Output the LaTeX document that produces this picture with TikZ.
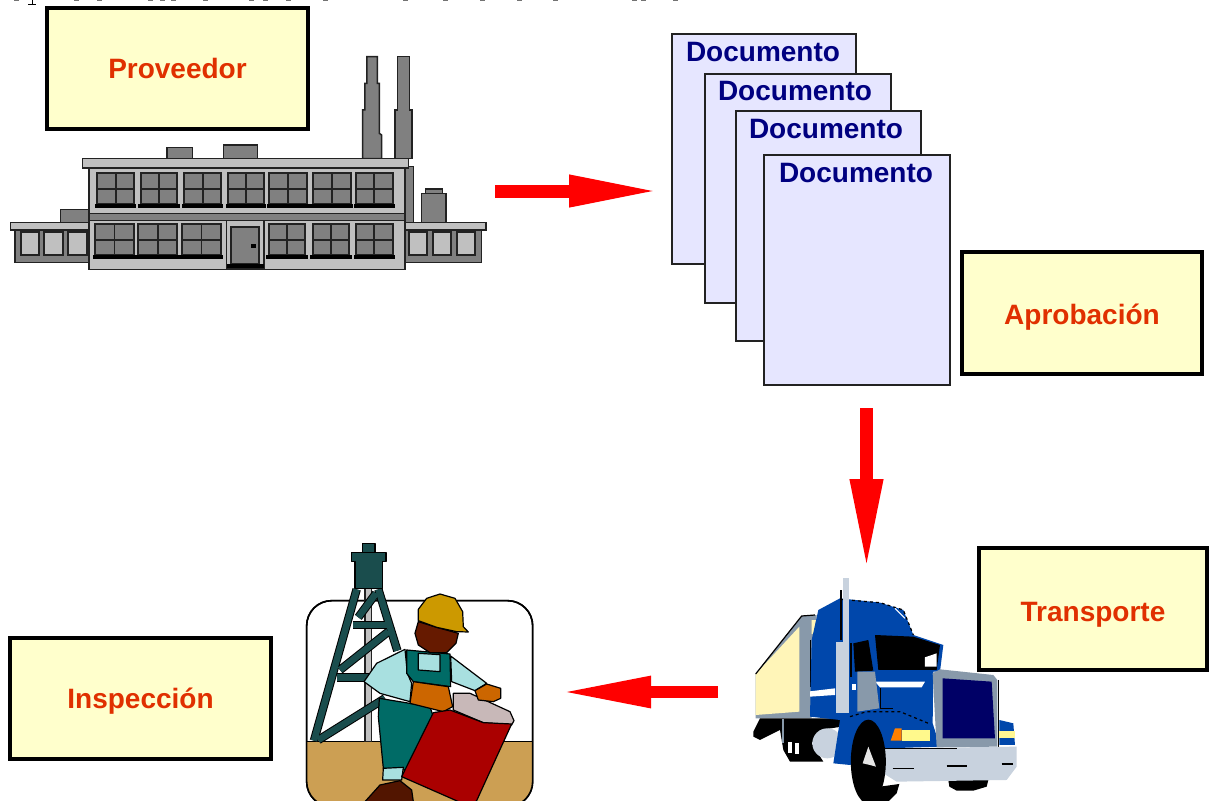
\documentclass[tikz,border=0pt]{standalone}
\usepackage{fontspec}
\setmainfont{Liberation Sans}
\usetikzlibrary{arrows.meta}
\definecolor{boxfill}{HTML}{FFFFCC}
\definecolor{labelred}{HTML}{E03000}
\definecolor{docfill}{HTML}{E6E6FF}
\definecolor{docblue}{HTML}{000080}
\definecolor{gl}{HTML}{C0C0C0}
\definecolor{gd}{HTML}{808080}
\definecolor{ol}{HTML}{222222}
\definecolor{tealD}{HTML}{1A4D4D}
\definecolor{tealM}{HTML}{006B66}
\definecolor{shirt}{HTML}{A8E0E0}
\definecolor{orangeW}{HTML}{CC6600}
\definecolor{hat}{HTML}{CC9900}
\definecolor{skin}{HTML}{661A00}
\definecolor{paperP}{HTML}{C8B8B8}
\definecolor{barrel}{HTML}{AA0000}
\definecolor{ground}{HTML}{CC9F53}
\definecolor{cream}{HTML}{FFF5B8}
\definecolor{steel}{HTML}{8899AA}
\definecolor{cabblue}{HTML}{0047AB}
\definecolor{pale}{HTML}{C8D2DE}
\definecolor{navyG}{HTML}{000066}
\tikzset{
  labelbox/.style={draw=black,line width=3.6pt,fill=boxfill,inner sep=0pt,text=labelred,font=\fontsize{28}{28}\selectfont\bfseries},
  basedrop/.style={text height=#1,text depth=0pt},
  docbox/.style={draw=ol,line width=2pt,fill=docfill,inner sep=0pt},
  doclabel/.style={inner sep=0pt,text=docblue,font=\fontsize{28}{28}\selectfont\bfseries},
  flowarrow/.style={draw=red,line width=#1},
  win/.style={draw=ol,line width=1.8pt,fill=gd},
  part/.style={draw=ol,line width=1.5pt},
  wk/.style={draw=black,line width=1.2pt,line join=round},
}
\newcommand{\windowpane}[4]{% x1 x2 y1 y2
  \draw[win] (#1,#3) rectangle (#2,#4);
  \draw[win] ({(#1+#2)/2},#3) -- ({(#1+#2)/2},#4);
  \draw[win] (#1,{(#3+#4)/2}) -- (#2,{(#3+#4)/2});
  \fill[black] ({#1-7},#4) rectangle ({#2+7},{#4+10});
}
\begin{document}
\begin{tikzpicture}[x=1pt,y=-1pt]
\useasboundingbox (0,0) rectangle (1209,800);
\fill[white] (0,0) rectangle (1209,800);
\begin{scope}
\clip (0,0) rectangle (1209,800);

% clipped remains of a line of text at the top edge
\foreach \mx in {14,74,97,148,160,171,203,249,263,286,323,403,443,480,517,553,632,641,673}
  \fill[black!55] (\mx,0) rectangle ({\mx+5},1.4);
\draw[black,line width=1pt] (32,0) -- (32,4);
\draw[black,line width=1pt] (28,4.2) -- (36,4.2);

% ---------- factory ----------
\begin{scope}[x=0.3333pt,y=-0.3333pt]
  \filldraw[part,fill=gd] (1088,476)--(1088,330)--(1095,330)--(1095,250)--(1101,250)--(1101,170)--(1132,170)--(1132,250)--(1138,250)--(1138,400)--(1145,405)--(1145,476)--cycle;
  \filldraw[part,fill=gd] (1185,476)--(1185,330)--(1192,330)--(1192,170)--(1229,170)--(1229,330)--(1236,330)--(1236,476)--cycle;
  \filldraw[part,fill=gd] (501,442) rectangle (577,476);
  \filldraw[part,fill=gd] (671,435) rectangle (773,476);
  \filldraw[part,fill=gd] (182,628) rectangle (265,668);
  \filldraw[part,fill=gd] (1265,580) rectangle (1338,668);
  \filldraw[part,fill=gd] (1277,567) rectangle (1327,580);
  \filldraw[part,fill=gd] (1213,500) rectangle (1241,668);
  % wings
  \filldraw[part,fill=gd] (45,688) rectangle (267,788);
  \filldraw[part,fill=gd] (1215,688) rectangle (1444,788);
  \filldraw[part,fill=gl] (32,667) rectangle (267,690);
  \filldraw[part,fill=gl] (1215,667) rectangle (1458,690);
  \foreach \a/\b in {62/118,132/190,203/260,1226/1280,1298/1352,1370/1424}
    \filldraw[win,fill=gl] (\a,697) rectangle (\b,765);
  % main block
  \filldraw[part,fill=gl] (267,505) rectangle (1215,808);
  \filldraw[part,fill=gl] (247,476) rectangle (1226,504);
  \filldraw[part,fill=gd] (268,640) rectangle (1213,662);
  \foreach \a/\b in {292/402,422/532,553/663,684/792,808/922,938/1052,1068/1178}
    \windowpane{\a}{\b}{520}{613};
  \foreach \a/\b in {285/402,415/532,546/663,806/916,938/1048,1068/1178}
    \windowpane{\a}{\b}{672}{766};
  % door
  \filldraw[part,fill=gl] (680,662) rectangle (792,805);
  \filldraw[win] (692,682) rectangle (778,792);
  \fill[black] (680,792) rectangle (792,805);
  \fill[black] (754,731) rectangle (767,744);
\end{scope}

% ---------- documents ----------
\node[docbox,minimum width=184pt,minimum height=230pt] (doc1) at (764,149) {};
\node[doclabel] (doc1t) at (763,52) {Documento};
\node[docbox,minimum width=186pt,minimum height=229pt] (doc2) at (798,188.5) {};
\node[doclabel] (doc2t) at (795,91) {Documento};
\node[docbox,minimum width=185pt,minimum height=230pt] (doc3) at (828.5,226) {};
\node[doclabel] (doc3t) at (826,129) {Documento};
\node[docbox,minimum width=186pt,minimum height=230pt] (doc4) at (857,270) {};
\node[doclabel] (doc4t) at (856,173) {Documento};

% ---------- label boxes ----------
\node[labelbox,basedrop=20pt,minimum width=261pt,minimum height=121pt] (prov) at (177.5,68.5) {Proveedor};
\node[labelbox,basedrop=22pt,minimum width=240pt,minimum height=122pt] (apro) at (1082,313) {Aprobación};
\node[labelbox,basedrop=24pt,minimum width=228pt,minimum height=122pt] (tran) at (1093,609) {Transporte};
\node[labelbox,basedrop=20pt,minimum width=261pt,minimum height=121pt] (insp) at (140.5,698.5) {Inspección};

% ---------- arrows ----------
\coordinate (a1s) at (495,191);
\coordinate (a1e) at (661,191);
\coordinate (a2s) at (866.5,408);
\coordinate (a2e) at (866.5,571);
\coordinate (a3s) at (718,692);
\coordinate (a3e) at (560,692);
\draw[flowarrow=13pt,-{Triangle[length=92pt,width=29pt]}] (a1s) -- (a1e);
\draw[flowarrow=13pt,-{Triangle[length=92pt,width=30pt]}] (a2s) -- (a2e);
\draw[flowarrow=12pt,-{Triangle[length=91pt,width=29pt]}] (a3s) -- (a3e);

% ---------- inspector ----------
\begin{scope}[shift={(290,530)},x=0.3333pt,y=-0.3333pt]
  \filldraw[draw=black,line width=1.6pt,fill=white,rounded corners=25pt] (50,212) rectangle (728,830);
  \begin{scope}
    \clip[rounded corners=25pt] (50,212) rectangle (728,830);
    \fill[ground] (50,635) rectangle (728,830);
    \draw[black,line width=1.2pt] (50,635) -- (728,635);
  \end{scope}
  \draw[black,line width=1.6pt,rounded corners=25pt] (50,212) rectangle (728,830);
  % tower
  \filldraw[part,fill=gl] (225,175) rectangle (245,635);
  \foreach \p/\q in {{(200,178)}/{(72,632)},{(265,178)}/{(322,362)},{(258,190)}/{(205,262)},{(190,285)}/{(290,285)},{(295,305)}/{(150,420)},{(140,442)}/{(240,442)},{(285,505)}/{(85,630)}}{
    \draw[black,line width=8.5pt] \p -- \q;
  }
  \foreach \p/\q in {{(200,178)}/{(72,632)},{(265,178)}/{(322,362)},{(258,190)}/{(205,262)},{(190,285)}/{(290,285)},{(295,305)}/{(150,420)},{(140,442)}/{(240,442)},{(285,505)}/{(85,630)}}{
    \draw[tealD,line width=6.5pt] \p -- \q;
  }
  \filldraw[wk,fill=tealD] (218,68) rectangle (255,40);
  \filldraw[wk,fill=tealD] (185,68)--(288,68)--(288,95)--(278,95)--(278,175)--(195,175)--(195,95)--(185,95)--cycle;
  % worker
  \filldraw[wk,fill=tealM] (268,505)--(420,530)--(430,560)--(390,640)--(350,720)--(280,715)--(265,560)--cycle;
  \filldraw[wk,fill=shirt] (280,715)--(340,712)--(335,750)--(278,750)--cycle;
  \filldraw[wk,fill=skin!80!black] (225,815)--(270,765)--(330,752)--(365,780)--(370,815)--cycle;
  \filldraw[wk,fill=shirt] (482,378)--(590,460)--(555,482)--(485,455)--cycle;
  \filldraw[wk,fill=shirt] (345,358)--(260,400)--(222,455)--(270,490)--(360,515)--(365,460)--(352,430)--cycle;
  \filldraw[wk,fill=tealM] (350,360)--(480,372)--(482,470)--(370,455)--(350,430)--cycle;
  \filldraw[wk,fill=shirt] (385,370)--(450,374)--(450,425)--(385,420)--cycle;
  \filldraw[wk,fill=orangeW] (370,455)--(475,470)--(488,530)--(460,545)--(360,520)--cycle;
  \filldraw[wk,fill=skin] (385,275)--(440,292)--(505,310)--(498,340)--(470,368)--(420,368)--(385,345)--(375,310)--cycle;
  \filldraw[wk,fill=hat] (385,272)--(385,238)--(410,205)--(450,192)--(495,205)--(518,245)--(520,290)--(535,306)--(500,305)--(440,292)--cycle;
  \filldraw[wk,fill=paperP] (490,490)--(540,490)--(660,545)--(672,572)--(665,585)--(580,578)--(490,540)--cycle;
  \filldraw[wk,fill=barrel] (430,548)--(480,540)--(580,578)--(665,582)--(560,812)--(540,830)--(335,740)--cycle;
  \filldraw[wk,fill=orangeW] (555,482)--(590,462)--(632,475)--(632,505)--(610,515)--(565,510)--cycle;
\end{scope}

% ---------- truck ----------
\begin{scope}[shift={(740,560)},x=0.3333pt,y=-0.3333pt]
  \fill[steel] (47,342)--(185,168)--(230,165)--(215,475)--(47,475)--cycle;
  \fill[cream] (47,342)--(178,200)--(178,455)--(47,465)--cycle;
  \draw[black,line width=1.2pt] (47,342)--(185,168)--(225,165);
  \fill[cream] (215,180)--(228,180)--(222,220)--(215,222)--cycle;
  \draw[black,line width=1.2pt] (212,240)--(212,380);
  % rear running gear
  \fill[black] (40,515)--(60,475)--(305,475)--(305,500)--(240,510)--(215,550)--(250,605)--(150,605)--(130,570)--(120,510)--(60,540)--(40,530)--cycle;
  \fill[white] (145,545) rectangle (156,578);
  \fill[white] (165,550) rectangle (178,582);
  \fill[pale] (262,550) circle (15pt);
  \fill[steel] (125,478) rectangle (133,548);
  % cab
  \fill[cabblue] (235,150)--(300,115)--(420,128)--(490,150)--(520,225)--(610,255)--(600,335)--(580,335)--(578,490)--(600,560)--(440,565)--(330,615)--(280,610)--(300,480)--(210,470)--(215,240)--cycle;
  \draw[black,line width=1.2pt,dashed] (300,118)--(420,128)--(490,150)--(520,225);
  \draw[white,line width=1pt] (465,145)--(495,175);
  \fill[black] (405,225)--(520,230)--(600,255)--(590,330)--(415,330)--cycle;
  \fill[white] (555,292)--(590,280)--(590,320)--(555,320)--cycle;
  \fill[black] (340,250)--(385,240)--(400,332)--(345,335)--cycle;
  \fill[white] (210,394)--(285,385)--(285,405)--(210,410)--cycle;
  \fill[white] (405,365)--(555,365)--(545,382)--(420,382)--cycle;
  \fill[white] (335,372) rectangle (348,390);
  \fill[steel] (352,335)--(405,335)--(418,445)--(352,455)--cycle;
  \draw[black,line width=1.2pt] (422,385)--(422,445)--(460,445);
  \fill[pale] (310,55) rectangle (328,245);
  \fill[pale] (288,245) rectangle (328,460);
  \draw[black,line width=1.2pt] (303,90)--(303,240);
  \draw[black,line width=1.2pt] (333,250)--(333,350);
  % grille
  \fill[steel] (578,340)--(600,328)--(760,345)--(772,360)--(772,560)--(590,562)--cycle;
  \fill[navyG] (608,355)--(755,365)--(765,535)--(608,535)--cycle;
  \draw[black,line width=1.4pt] (776,360)--(776,560);
  \fill[cabblue] (778,480)--(820,490)--(825,555)--(778,555)--cycle;
  \fill[cream!80!yellow] (778,512) rectangle (825,535);
  \fill[orange] (452,542)--(465,505)--(485,505)--(485,542)--cycle;
  \fill[yellow!45!white] (485,510) rectangle (570,542);
  % bumper
  \fill[black] (625,660) -- (745,660) -- (740,680) -- (700,692) -- (650,692) -- (628,680) -- cycle;
  \fill[pale] (435,565)--(830,560)--(830,620)--(800,660)--(470,665)--(430,640)--cycle;
  \draw[black,line width=1.4pt] (435,565)--(650,565);
  \foreach \a/\b/\c in {458/522/625,620/680/618,785/820/612}
    \draw[black,line width=1.2pt] (\a,\c)--(\b,\c);
  % front wheel
  \fill[black] (385,605) ellipse (17.5pt and 42pt);
  \fill[black] (420,680)--(478,672)--(470,700)--(440,730)--(375,730)--cycle;
  \fill[cabblue] (295,600)--(320,470)--(380,455)--(340,480)--(325,605)--cycle;
  \fill[white!80!gray] (368,610)--(385,560)--(408,620)--(390,615)--cycle;
  \draw[black,line width=1.2pt,dashed] (330,470)--(380,455)--(480,455)--(570,492);
\end{scope}
\end{scope}
\end{tikzpicture}
\end{document}
